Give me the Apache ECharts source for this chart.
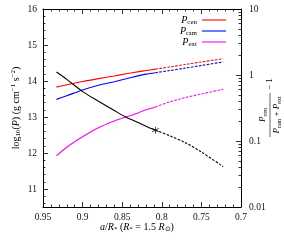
<!DOCTYPE html>
<html><head><meta charset="utf-8">
<script src="https://cdn.jsdelivr.net/npm/echarts@6/dist/echarts.min.js"></script>
<style>html,body{margin:0;padding:0;background:#fff}#c{width:284px;height:245px}</style>
</head><body><div id="c"></div>
<script>
// a / R*
const aVals = [0.933, 0.92, 0.90, 0.88, 0.86, 0.845, 0.829, 0.82, 0.808, 0.79, 0.77, 0.75, 0.7225];
// log10(P)
const pCen  = [13.83, 13.895, 13.985, 14.065, 14.14, 14.20, 14.26, 14.29, 14.33, 14.39, 14.46, 14.53, 14.62];
const pRam  = [13.49, 13.59, 13.75, 13.88, 13.98, 14.06, 14.15, 14.19, 14.23, 14.29, 14.36, 14.43, 14.53];
const pExt  = [11.92, 12.16, 12.45, 12.70, 12.89, 13.00, 13.12, 13.20, 13.28, 13.42, 13.54, 13.64, 13.77];
// Pcen/(Pram+Pext) - 1
const ratio = [1.11, 0.86, 0.56, 0.40, 0.29, 0.229, 0.189, 0.168, 0.146, 0.12, 0.094, 0.068, 0.041];
const splitIdx = 8; // solid up to here, dashed after (marked by a star)
const leftTicks = [11, 12, 13, 14, 15, 16];
const rightTicks = [0.01, 0.1, 1, 10];
const rightMinor = [];
[0.01, 0.1, 1].forEach(d => { for (let k = 2; k <= 9; k++) rightMinor.push(+(d * k).toPrecision(3)); });

const FONT = 'Liberation Serif';
const pairs = arr => aVals.map((a, i) => [a, arr[i]]);
const solid = arr => pairs(arr).slice(0, splitIdx + 1);
const dashed = arr => pairs(arr).slice(splitIdx);

const rich = {
  i: {fontFamily: FONT, fontStyle: 'italic', fontSize: 10, lineHeight: 12, color: '#000'},
  r: {fontFamily: FONT, fontSize: 10, lineHeight: 12, color: '#000'},
  s: {fontFamily: FONT, fontSize: 7, lineHeight: 7, verticalAlign: 'bottom', color: '#000'},
  u: {fontFamily: FONT, fontSize: 7, lineHeight: 7, verticalAlign: 'top', color: '#000'},
  fi: {fontFamily: FONT, fontStyle: 'italic', fontSize: 9, lineHeight: 11, color: '#000'},
  fr: {fontFamily: FONT, fontSize: 9, lineHeight: 11, color: '#000'},
  fs: {fontFamily: FONT, fontSize: 6, lineHeight: 6, verticalAlign: 'bottom', color: '#000'}
};

const lineSeries = (name, data, color, yIdx, dash) => ({
  name, type: 'line', data, yAxisIndex: yIdx, symbol: 'none', smooth: 0.3,
  color, lineStyle: {color, width: 1.1, type: dash ? [2.5, 1.5] : 'solid'},
  silent: true, animation: false
});

// asterisk symbol
function asterisk() {
  let p = '';
  [90, 30, -30].forEach(deg => {
    const t = deg * Math.PI / 180, dx = Math.cos(t), dy = Math.sin(t);
    const nx = -dy, ny = dx, L = 10, W = 1.1, c = 10;
    const pts = [[c + L*dx + W*nx, c + L*dy + W*ny], [c + L*dx - W*nx, c + L*dy - W*ny],
                 [c - L*dx - W*nx, c - L*dy - W*ny], [c - L*dx + W*nx, c - L*dy + W*ny]];
    p += 'M' + pts.map(q => q[0].toFixed(2) + ' ' + q[1].toFixed(2)).join(' L') + ' Z ';
  });
  return 'path://' + p;
}

// axes are left without an explicit position (auto placement: bottom/top, left/right);
// ticks point into the plot through a negative length
const tick = (len, extra) => Object.assign({show: true, inside: false, length: -len, lineStyle: {color: '#000', width: 0.8}}, extra || {});
const minor = () => ({show: true, splitNumber: 5, length: -2.5, lineStyle: {color: '#000', width: 0.8}});
const axisLine = () => ({show: true, lineStyle: {color: '#000', width: 1}});
const labelStyle = {fontFamily: FONT, fontSize: 9.5, color: '#111'};

const chart = echarts.init(document.getElementById('c'), null, {renderer: 'canvas'});
chart.setOption({
  animation: false,
  backgroundColor: '#fff',
  grid: {left: 43, right: 43, top: 9, bottom: 38},
  xAxis: [
    {type: 'value', min: 0.7, max: 0.95, interval: 0.05, inverse: true,
     axisLine: axisLine(), splitLine: {show: false}, axisTick: tick(5), minorTick: minor(),
     axisLabel: Object.assign({margin: 5, formatter: v => String(+v.toFixed(2))}, labelStyle)},
    {type: 'value', min: 0.7, max: 0.95, interval: 0.05, inverse: true,
     axisLine: axisLine(), splitLine: {show: false}, axisTick: tick(5), minorTick: minor(),
     axisLabel: {show: false}}
  ],
  yAxis: [
    {type: 'value', min: 10.5, max: 16, splitNumber: 5, axisLine: axisLine(), splitLine: {show: false},
     axisTick: tick(5, {customValues: leftTicks}), minorTick: minor(),
     axisLabel: Object.assign({margin: 6, customValues: leftTicks}, labelStyle)},
    {type: 'log', logBase: 10, min: 0.01, max: 10, axisLine: axisLine(), splitLine: {show: false},
     axisTick: tick(5, {customValues: rightTicks}),
     axisLabel: Object.assign({margin: 8, customValues: rightTicks, formatter: v => String(v)}, labelStyle)},
    {type: 'log', logBase: 10, min: 0.01, max: 10, axisLine: {show: false}, splitLine: {show: false},
     axisTick: tick(2.5, {customValues: rightMinor}), axisLabel: {show: false}}
  ],
  legend: {
    data: ['P_cen', 'P_ram', 'P_ext'], orient: 'vertical', align: 'right',
    right: 53, top: 10, itemWidth: 24, itemHeight: 6, itemGap: 0,
    icon: 'path://M0 0 L24 0 L24 1.1 L0 1.1 Z',
    selectedMode: false,
    formatter: n => '{i|P}{s|' + n.slice(2) + '}',
    textStyle: {rich: rich, fontFamily: FONT, fontSize: 10}
  },
  series: [
    lineSeries('P_cen', solid(pCen), '#ff0000', 0, false),
    lineSeries('P_ram', solid(pRam), '#0000ff', 0, false),
    lineSeries('P_ext', solid(pExt), '#ff00ff', 0, false),
    lineSeries('cen_d', dashed(pCen), '#ff0000', 0, true),
    lineSeries('ram_d', dashed(pRam), '#0000ff', 0, true),
    lineSeries('ext_d', dashed(pExt), '#ff00ff', 0, true),
    lineSeries('ratio', solid(ratio), '#000000', 1, false),
    lineSeries('ratio_d', dashed(ratio), '#000000', 1, true),
    {name: 'star', type: 'scatter', yAxisIndex: 1, data: [[aVals[splitIdx], ratio[splitIdx]]],
     symbol: asterisk(), symbolSize: 7, itemStyle: {color: '#000'}, silent: true}
  ],
  graphic: [
    {type: 'text', x: 16, y: 108, rotation: Math.PI / 2,
     style: {text: '{r|log}{s|10}{r|(}{i|P}{r|) (g cm}{u|−1}{r| s}{u|−2}{r|)}', rich: rich,
             align: 'center', verticalAlign: 'middle'}},
    {type: 'text', x: 137, y: 227,
     style: {text: '{i|a}{r|/}{i|R}{s|*}{r| (}{i|R}{s|*}{r| = 1.5 }{i|R}{s|⊙}{r|)}', rich: rich,
             align: 'center', verticalAlign: 'middle'}},
    {type: 'group', x: 269, y: 108, rotation: Math.PI / 2, children: [
      {type: 'text', x: -7, y: -1, style: {text: '{fi|P}{fs|cen}', rich: rich, align: 'center', verticalAlign: 'bottom'}},
      {type: 'line', shape: {x1: -29, y1: 1, x2: 15, y2: 1}, style: {stroke: '#000', lineWidth: 0.6}},
      {type: 'text', x: -7, y: 2, style: {text: '{fi|P}{fs|ram}{fr| + }{fi|P}{fs|ext}', rich: rich, align: 'center', verticalAlign: 'top'}},
      {type: 'text', x: 18, y: 1, style: {text: '{fr|− 1}', rich: rich, align: 'left', verticalAlign: 'middle'}}
    ]}
  ]
});
</script></body></html>
